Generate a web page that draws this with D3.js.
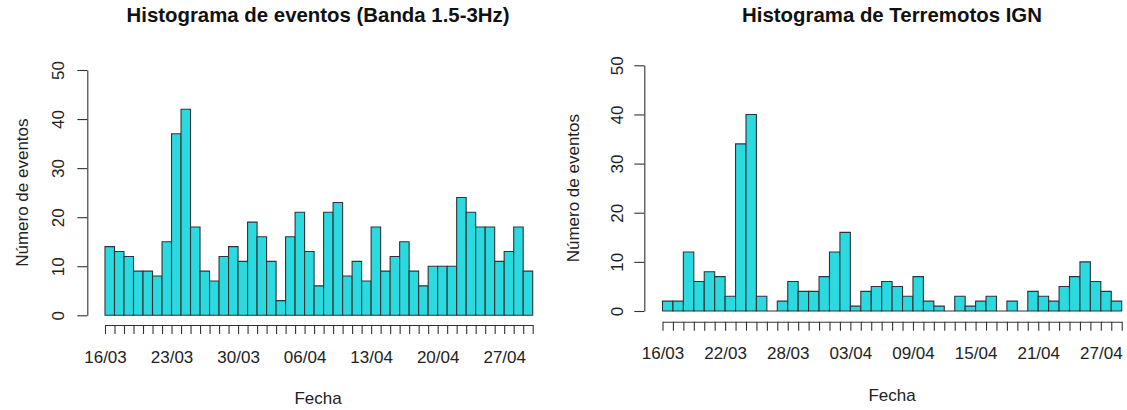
<!DOCTYPE html>
<html>
<head>
<meta charset="utf-8">
<script src="https://cdn.jsdelivr.net/npm/d3@7"></script>
<style>
  body { margin: 0; background: #fff; }
  text { font-family: "Liberation Sans", Arial, sans-serif; fill: #222; }
</style>
</head>
<body>
<div id="chart-area"></div>
<script>
// daily counts, left panel (16/03 .. 29/04)
const daysA = ["16/03","17/03","18/03","19/03","20/03","21/03","22/03","23/03","24/03","25/03","26/03","27/03","28/03","29/03","30/03","31/03",
  "01/04","02/04","03/04","04/04","05/04","06/04","07/04","08/04","09/04","10/04","11/04","12/04","13/04","14/04","15/04","16/04","17/04","18/04",
  "19/04","20/04","21/04","22/04","23/04","24/04","25/04","26/04","27/04","28/04","29/04","30/04"];
const countsA = [14,13,12,9,9,8,15,37,42,18,9,7,12,14,11,19,16,11,3,16,21,13,6,21,23,8,11,7,18,9,12,15,9,6,10,10,10,24,21,18,18,11,13,18,9];
const labelsA = ["16/03","23/03","30/03","06/04","13/04","20/04","27/04"];

// daily counts, right panel (16/03 .. 28/04)
const daysB = daysA.slice(0, 45);
const countsB = [2,2,12,6,8,7,3,34,40,3,0,2,6,4,4,7,12,16,1,4,5,6,5,3,7,2,1,0,3,1,2,3,0,2,0,4,3,2,5,7,10,6,4,2];
const labelsB = ["16/03","22/03","28/03","03/04","09/04","15/04","21/04","27/04"];

const yTicks = [0,10,20,30,40,50];

const svg = d3.select("#chart-area")
    .append("svg")
    .attr("width", 1127)
    .attr("height", 410);

const panel = (opt) => {
    const g = svg.append("g");
    const n = opt.counts.length;

    const x = d3.scaleLinear().domain([0, n]).range([opt.x0, opt.x1]);
    const y = d3.scaleLinear().domain([0, 50]).range([opt.yBottom, opt.yTop]);

    // bars as closed paths so that empty bins still show their outline
    g.selectAll("path.bar")
        .data(opt.counts)
        .enter()
        .append("path")
        .attr("class", "bar")
        .attr("d", (d, i) => {
            const p = d3.path();
            p.rect(x(i), y(d), x(i + 1) - x(i), y(0) - y(d));
            return p.toString();
        })
        .attr("fill", "#2bd9e1")
        .attr("stroke", "#333")
        .attr("stroke-width", 1.1);

    // x axis: one tick per break, date label every few days
    const bottomAxis = d3.axisBottom(x)
        .tickValues(d3.range(n + 1))
        .tickSize(9)
        .tickSizeOuter(0)
        .tickFormat((i) => opt.labels.includes(opt.days[i]) ? opt.days[i] : "");

    const xa = g.append("g")
        .attr("transform", "translate(0, " + opt.xAxisY + ")")
        .call(bottomAxis);
    xa.selectAll("text")
        .attr("y", opt.xLabelY - opt.xAxisY)
        .attr("dy", "0.35em")
        .attr("font-size", "17px");

    const leftAxis = d3.axisLeft(y)
        .tickValues(yTicks)
        .tickSize(10)
        .tickSizeOuter(0);

    const ya = g.append("g")
        .attr("transform", "translate(" + opt.yAxisX + ", 0)")
        .call(leftAxis);
    ya.selectAll("text")
        .attr("x", 0)
        .attr("y", 0)
        .attr("dy", "0.35em")
        .attr("text-anchor", "middle")
        .attr("font-size", "17px")
        .attr("transform", "translate(" + (opt.yLabelX - opt.yAxisX) + ", 0) rotate(-90)");

    svg.selectAll(".domain, .tick line").attr("stroke", "#333").attr("stroke-width", 1.1);
    svg.selectAll(".tick text").attr("fill", "#222").attr("font-family", null);

    g.append("text")
        .attr("x", opt.titleX)
        .attr("y", 22)
        .attr("text-anchor", "middle")
        .attr("font-size", "20.4px")
        .attr("font-weight", "bold")
        .style("fill", "#111")
        .text(opt.title);

    g.append("text")
        .attr("x", opt.fechaX)
        .attr("y", opt.fechaY)
        .attr("dy", "0.35em")
        .attr("text-anchor", "middle")
        .attr("font-size", "17px")
        .text("Fecha");

    g.append("text")
        .attr("transform", "translate(" + opt.ylabX + ", " + y(25) + ") rotate(-90)")
        .attr("dy", "0.35em")
        .attr("text-anchor", "middle")
        .attr("font-size", "17px")
        .text("Número de eventos");
};

panel({
    counts: countsA, days: daysA, labels: labelsA,
    x0: 105, x1: 532.7, yBottom: 315.3, yTop: 70,
    xAxisY: 325, xLabelY: 357, yAxisX: 87.3, yLabelX: 58,
    title: "Histograma de eventos (Banda 1.5-3Hz)", titleX: 318,
    fechaX: 318, fechaY: 398, ylabX: 22
});

panel({
    counts: countsB, days: daysB, labels: labelsB,
    x0: 662.5, x1: 1121.7, yBottom: 311, yTop: 65.3,
    xAxisY: 321.7, xLabelY: 353, yAxisX: 644.3, yLabelX: 617,
    title: "Histograma de Terremotos IGN", titleX: 892,
    fechaX: 892, fechaY: 395, ylabX: 573
});
</script>
</body>
</html>
